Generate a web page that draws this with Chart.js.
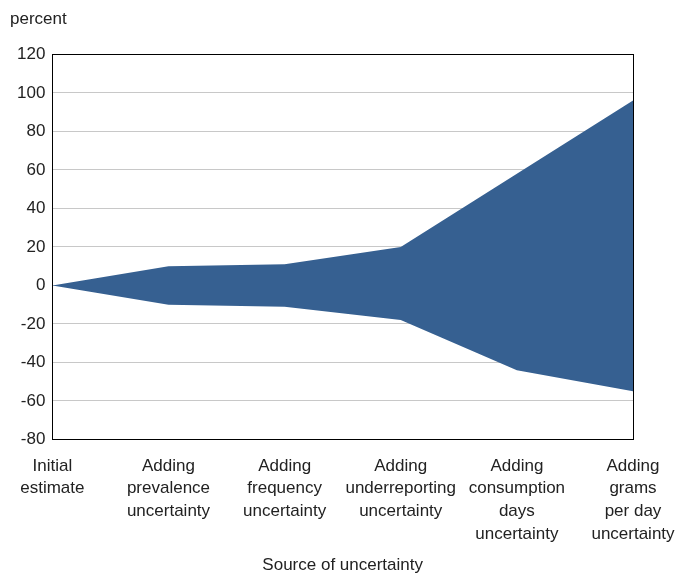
<!DOCTYPE html>
<html lang="en">
<head>
    <meta charset="UTF-8">
    <title>Source of uncertainty</title>
    <script src="https://cdn.jsdelivr.net/npm/chart.js"></script>
    <style>
        body { margin: 0; background: #fff; }
        #chart { display: block; }
    </style>
</head>
<body>
    <canvas id="chart" width="676" height="576"></canvas>
    <script>
        const categories = [
            ['Initial', 'estimate'],
            ['Adding', 'prevalence', 'uncertainty'],
            ['Adding', 'frequency', 'uncertainty'],
            ['Adding', 'underreporting', 'uncertainty'],
            ['Adding', 'consumption', 'days', 'uncertainty'],
            ['Adding', 'grams', 'per day', 'uncertainty']
        ];
        const upperBound = [0, 10, 11, 20, 58, 96];
        const lowerBound = [0, -10, -11, -18, -44, -55];

        const fillColor = '#366091';
        const fontFamily = '"Liberation Sans Narrow", "Arial Narrow", "Liberation Sans", sans-serif';

        // cadre noir autour de la zone du graphique
        const frame = {
            id: 'frame',
            afterDatasetsDraw(chart) {
                const a = chart.chartArea;
                const c = chart.ctx;
                c.save();
                c.strokeStyle = '#000';
                c.lineWidth = 1;
                c.strokeRect(Math.round(a.left) + 0.5, Math.round(a.top) + 0.5,
                    Math.round(a.right - a.left), Math.round(a.bottom - a.top));
                c.restore();
            }
        };

        new Chart(document.getElementById('chart'), {
            type: 'line',
            data: {
                labels: categories,
                datasets: [
                    {
                        data: upperBound,
                        borderWidth: 0,
                        pointRadius: 0,
                        backgroundColor: fillColor,
                        fill: '+1',
                        tension: 0
                    },
                    {
                        data: lowerBound,
                        borderWidth: 0,
                        pointRadius: 0,
                        fill: false,
                        tension: 0
                    }
                ]
            },
            options: {
                responsive: false,
                animation: false,
                layout: { padding: { left: 10, right: 43, top: 0, bottom: 0 } },
                plugins: {
                    legend: { display: false },
                    tooltip: { enabled: false },
                    title: {
                        display: true,
                        text: 'percent',
                        align: 'start',
                        color: '#222',
                        font: { family: fontFamily, size: 17, weight: 'normal' },
                        padding: { top: 9, bottom: 25 }
                    }
                },
                scales: {
                    x: {
                        offset: false,
                        grid: { display: false },
                        border: { color: '#000' },
                        afterFit(scale) {
                            // les libellés extrêmes peuvent déborder de la zone du graphique
                            scale.paddingRight = 0;
                            scale.paddingLeft = 0;
                        },
                        ticks: {
                            color: '#222',
                            maxRotation: 0,
                            autoSkip: false,
                            padding: 7,
                            font: { family: fontFamily, size: 17, lineHeight: 1.34 }
                        },
                        title: {
                            display: true,
                            text: 'Source of uncertainty',
                            color: '#222',
                            font: { family: fontFamily, size: 17 },
                            padding: { top: 3, bottom: 0 }
                        }
                    },
                    y: {
                        min: -80,
                        max: 120,
                        grid: {
                            color: ctx => (ctx.tick && (ctx.tick.value === 120 || ctx.tick.value === -80)) ? '#000' : '#c8c8c8',
                            drawTicks: false
                        },
                        border: { color: '#000' },
                        ticks: {
                            stepSize: 20,
                            color: '#222',
                            padding: 7,
                            font: { family: fontFamily, size: 17 }
                        }
                    }
                }
            },
            plugins: [frame]
        });
    </script>
</body>
</html>
